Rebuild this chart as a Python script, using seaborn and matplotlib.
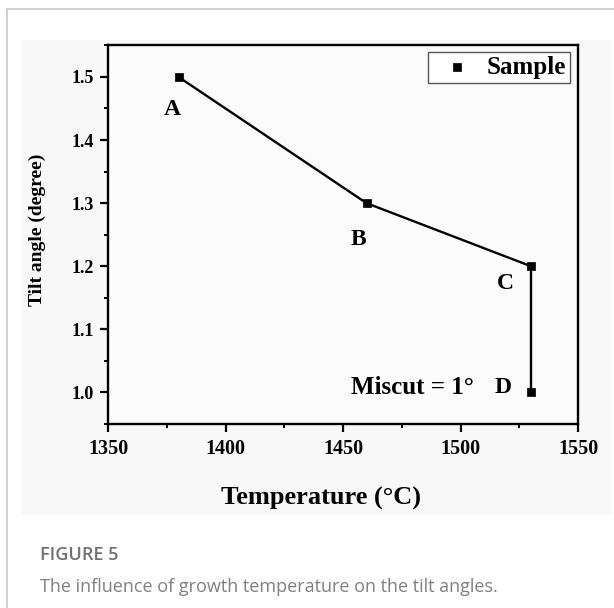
import matplotlib
matplotlib.use("Agg")
import matplotlib.pyplot as plt
import seaborn as sns
import pandas as pd
from matplotlib.lines import Line2D
from matplotlib.patches import Rectangle

# ---- data ----
temperature = [1380, 1460, 1530, 1530]
tilt_angle = [1.5, 1.3, 1.2, 1.0]
point_labels = ["A", "B", "C", "D"]
label_x = [1377.5, 1456.5, 1519, 1518]
label_y = [1.449, 1.242, 1.172, 1.008]
x_ticks = [1350, 1400, 1450, 1500, 1550]
y_ticks = [1.0, 1.1, 1.2, 1.3, 1.4, 1.5]

df = pd.DataFrame({"Temperature": temperature, "Tilt": tilt_angle})

sns.set_theme(style="ticks")
plt.rcParams["font.family"] = ["Liberation Serif", "DejaVu Serif"]
plt.rcParams["font.weight"] = "bold"
for k in ["text.color", "axes.labelcolor", "xtick.color", "ytick.color", "axes.edgecolor"]:
    plt.rcParams[k] = "black"

W, H = 614, 608
fig = plt.figure(figsize=(W / 100, H / 100), dpi=100)
fig.patch.set_facecolor("white")

# faint background of the embedded chart image
fig.patches.append(Rectangle((22 / W, 1 - 515 / H), (612 - 22) / W, (515 - 40) / H,
                             transform=fig.transFigure, facecolor="#f8f8f8",
                             edgecolor="none", zorder=-10))
# page border lines
fig.add_artist(Line2D([7 / W, 7 / W], [0, 1 - 9 / H], transform=fig.transFigure,
                      color="#c8c8c8", lw=1.2, zorder=-5))
fig.add_artist(Line2D([7 / W, 1], [1 - 9 / H, 1 - 9 / H], transform=fig.transFigure,
                      color="#c8c8c8", lw=1.2, zorder=-5))

ax = fig.add_axes([108 / W, 1 - 424 / H, (578 - 108) / W, (424 - 45) / H])
ax.set_zorder(1)
ax.set_facecolor("#fbfbfb")

sns.lineplot(data=df, x="Temperature", y="Tilt", sort=False, estimator=None,
             errorbar=None, color="black", linewidth=1.7, legend=False, ax=ax)
sns.scatterplot(data=df, x="Temperature", y="Tilt", marker="s", color="black",
                s=36, edgecolor="black", linewidth=0.5, label="Sample", ax=ax, zorder=3)

for t, lx, ly in zip(point_labels, label_x, label_y):
    ax.text(lx, ly, t, ha="center", va="center", fontsize=17, fontweight="bold")
ax.text(1479.5, 1.008, "Miscut = 1°", ha="center", va="center", fontsize=18,
        fontweight="bold")

ax.set_xlim(1350, 1550)
ax.set_ylim(0.951, 1.5506)
ax.set_xticks(x_ticks)
ax.set_yticks(y_ticks)
ax.set_xticklabels([str(v) for v in x_ticks], fontsize=14.5, fontweight="bold")
ax.set_yticklabels([f"{v:.1f}" for v in y_ticks], fontsize=13, fontweight="bold")
ax.set_xticks([1375, 1425, 1475, 1525], minor=True)
ax.set_yticks([0.95, 1.05, 1.15, 1.25, 1.35, 1.45, 1.55], minor=True)
ax.tick_params(axis="both", which="major", direction="out", length=5.5, width=1.6,
               color="black", labelcolor="black", pad=5)
ax.tick_params(axis="both", which="minor", direction="out", length=3.2, width=1.4,
               color="black")
ax.tick_params(top=False, right=False, which="both")
for sp in ax.spines.values():
    sp.set_linewidth(1.7)
    sp.set_color("black")
    sp.set_visible(True)

ax.set_xlabel("Temperature (°C)", fontsize=19, fontweight="bold", va="center")
ax.xaxis.set_label_coords((321 - 108) / 470, (424 - 498) / 379)
ax.set_ylabel("Tilt angle (degree)", fontsize=14, fontweight="bold", va="center")
ax.yaxis.set_label_coords((37 - 108) / 470, (424 - 230) / 379)

leg = ax.legend(loc="upper right", bbox_to_anchor=((570 - 108) / 470, (424 - 52) / 379),
                borderaxespad=0, frameon=True, fancybox=False,
                handlelength=2.0, handletextpad=0.2, borderpad=0.15,
                prop={"weight": "bold", "size": 18})
leg.get_frame().set_edgecolor("#555555")
leg.get_frame().set_linewidth(1.0)
leg.get_frame().set_facecolor("white")
leg.get_frame().set_alpha(1)

fig.text(40 / W, 1 - 560 / H, "FIGURE 5", fontsize=13, color="#707070",
         family=["Open Sans", "DejaVu Sans"], fontweight="semibold", va="baseline")
fig.text(40 / W, 1 - 592 / H, "The influence of growth temperature on the tilt angles.",
         fontsize=13, color="#808080", family=["Open Sans", "DejaVu Sans"],
         fontweight="normal", va="baseline")

fig.savefig("out.png", dpi=100)
